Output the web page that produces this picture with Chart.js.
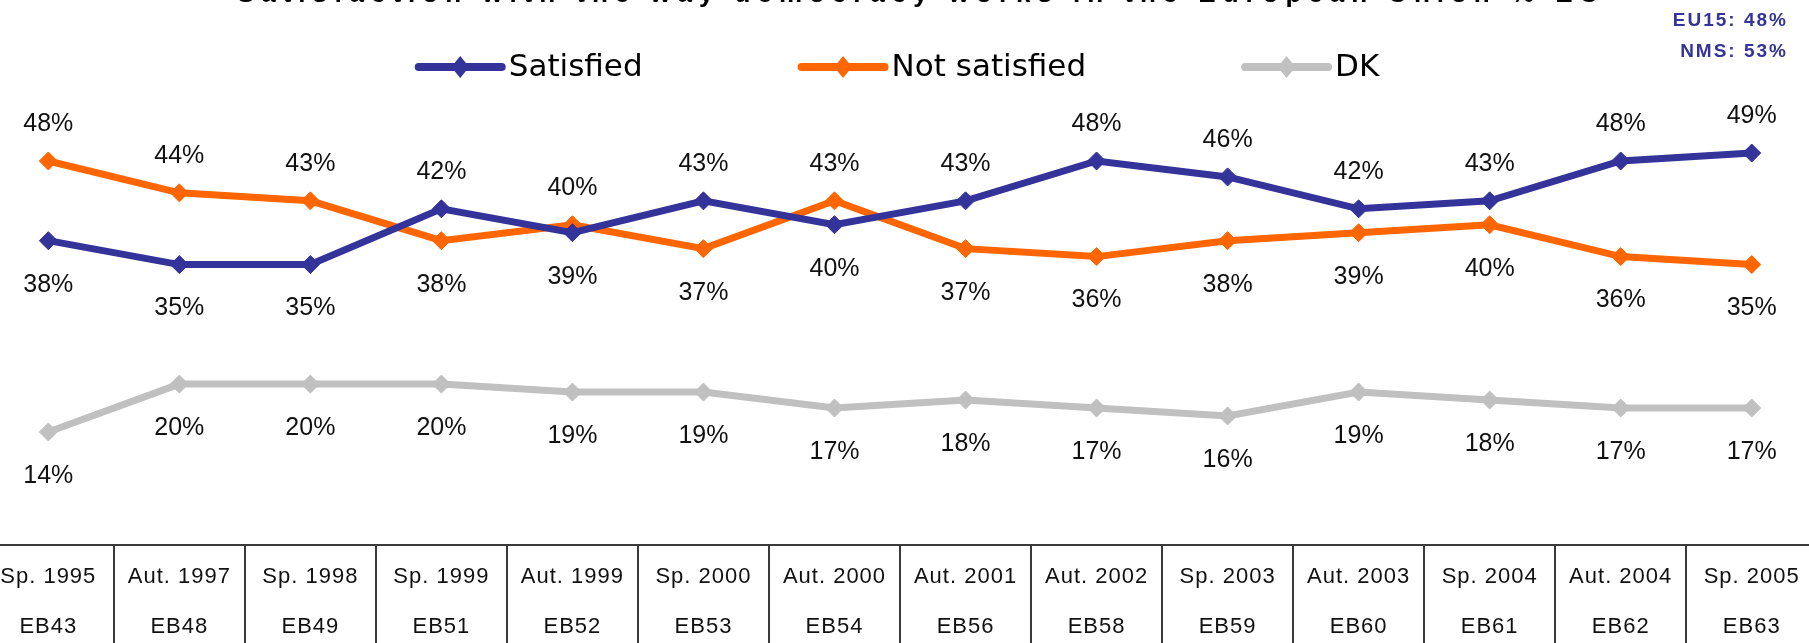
<!DOCTYPE html>
<html lang="en">
<head>
  <meta charset="utf-8">
  <title>Satisfaction with the way democracy works in the European Union</title>
  <script src="https://cdn.jsdelivr.net/npm/chart.js@4.4.0/dist/chart.umd.min.js"></script>
  <style>
    html, body { margin: 0; padding: 0; background: #fff; }
    #wrap { width: 1809px; height: 643px; }
  </style>
</head>
<body>
<div id="wrap"><canvas id="myChart" width="1809" height="643"></canvas></div>

<script>
// survey waves (table under the chart)
var waves = ['Sp. 1995', 'Aut. 1997', 'Sp. 1998', 'Sp. 1999', 'Aut. 1999', 'Sp. 2000', 'Aut. 2000',
             'Aut. 2001', 'Aut. 2002', 'Sp. 2003', 'Aut. 2003', 'Sp. 2004', 'Aut. 2004', 'Sp. 2005'];
var surveys = ['EB43', 'EB48', 'EB49', 'EB51', 'EB52', 'EB53', 'EB54',
               'EB56', 'EB58', 'EB59', 'EB60', 'EB61', 'EB62', 'EB63'];

// values in %
var satisfied    = [38, 35, 35, 42, 39, 43, 40, 43, 48, 46, 42, 43, 48, 49];
var notSatisfied = [48, 44, 43, 38, 40, 37, 43, 37, 36, 38, 39, 40, 36, 35];
var dontKnow     = [14, 20, 20, 20, 19, 19, 17, 18, 17, 16, 19, 18, 17, 17];

var seriesNames  = ['Satisfied', 'Not satisfied', 'DK'];
var seriesColors = ['#333399', '#FF6600', '#C0C0C0'];

var titleText = 'Satisfaction with the way democracy works in the European Union % EU';
var boxNotes  = ['EU15: 48%', 'NMS: 53%'];

function toPoints(arr) {
  return arr.map(function (v, i) { return { x: i, y: v }; });
}

function makeSet(k, arr) {
  return {
    label: seriesNames[k],
    data: toPoints(arr),
    borderColor: seriesColors[k],
    backgroundColor: seriesColors[k],
    borderWidth: 7,
    tension: 0,
    pointStyle: 'rectRot',
    pointRadius: 9,
    pointBorderWidth: 1,
    pointBackgroundColor: seriesColors[k],
    pointBorderColor: seriesColors[k],
    pointHoverRadius: 9,
    clip: false
  };
}

// percentage labels, above the higher of satisfied / not satisfied, below otherwise
var pctLabels = {
  id: 'pctLabels',
  afterDatasetsDraw: function (chart) {
    var ctx = chart.ctx;
    ctx.save();
    ctx.font = '25px "Liberation Sans", Arial, sans-serif';
    ctx.fillStyle = '#111';
    ctx.textAlign = 'center';
    ctx.textBaseline = 'middle';
    chart.data.datasets.forEach(function (ds, d) {
      var meta = chart.getDatasetMeta(d);
      meta.data.forEach(function (pt, i) {
        var v = ds.data[i].y;
        var above = false;
        if (d === 0) above = v > notSatisfied[i];
        if (d === 1) above = v > satisfied[i];
        ctx.fillText(v + '%', pt.x, pt.y + (above ? -37 : 44));
      });
    });
    ctx.restore();
  }
};

// title, legend, side notes and the wave table
var decor = {
  id: 'decor',
  beforeDraw: function (chart) {
    var ctx = chart.ctx;
    ctx.save();
    ctx.fillStyle = '#fff';
    ctx.fillRect(0, 0, chart.width, chart.height);

    // title (cut at the top edge like in the source)
    ctx.font = 'bold 26px "Liberation Sans", Arial, sans-serif';
    var w = ctx.measureText(titleText).width;
    ctx.letterSpacing = ((1361 - w) / (titleText.length - 1)).toFixed(2) + 'px';
    ctx.fillStyle = '#000';
    ctx.textAlign = 'left';
    ctx.textBaseline = 'alphabetic';
    ctx.fillText(titleText, 237, 2);
    ctx.letterSpacing = '0px';

    // legend
    ctx.font = '31px "DejaVu Sans", sans-serif';
    ctx.textBaseline = 'middle';
    var lineLen = 83, gapTxt = 7, gapItem = 159;
    var widths = seriesNames.map(function (n) { return lineLen + gapTxt + ctx.measureText(n).width; });
    var total = widths.reduce(function (a, b) { return a + b; }, 0) + gapItem * (widths.length - 1);
    var lx = 899 - total / 2, ly = 67;
    seriesNames.forEach(function (n, k) {
      ctx.strokeStyle = seriesColors[k];
      ctx.lineWidth = 8;
      ctx.lineCap = 'round';
      ctx.beginPath();
      ctx.moveTo(lx, ly);
      ctx.lineTo(lx + lineLen, ly);
      ctx.stroke();
      ctx.fillStyle = seriesColors[k];
      var cx = lx + lineLen / 2;
      ctx.beginPath();
      ctx.moveTo(cx - 9, ly);
      ctx.lineTo(cx, ly - 11);
      ctx.lineTo(cx + 9, ly);
      ctx.lineTo(cx, ly + 11);
      ctx.closePath();
      ctx.fill();
      ctx.fillStyle = '#000';
      ctx.fillText(n, lx + lineLen + gapTxt, ly + 1);
      lx += widths[k] + gapItem;
    });

    // EU15 / NMS notes
    ctx.font = 'bold 19px "Liberation Sans", Arial, sans-serif';
    ctx.letterSpacing = '2px';
    ctx.fillStyle = '#333399';
    ctx.textAlign = 'right';
    ctx.fillText(boxNotes[0], 1788, 21);
    ctx.fillText(boxNotes[1], 1788, 52);
    ctx.letterSpacing = '0px';
    ctx.restore();
  },
  afterDraw: function (chart) {
    var ctx = chart.ctx;
    var xs = chart.scales.x;
    var top = 545;
    ctx.save();
    ctx.strokeStyle = '#3a3a3a';
    ctx.lineWidth = 2;
    ctx.beginPath();
    ctx.moveTo(0, top);
    ctx.lineTo(chart.width, top);
    for (var i = 0; i < waves.length - 1; i++) {
      var bx = Math.round(xs.getPixelForValue(i + 0.5));
      ctx.moveTo(bx, top);
      ctx.lineTo(bx, chart.height);
    }
    ctx.stroke();

    ctx.font = '22px "Liberation Sans", Arial, sans-serif';
    ctx.letterSpacing = '1px';
    ctx.fillStyle = '#111';
    ctx.textAlign = 'center';
    ctx.textBaseline = 'middle';
    waves.forEach(function (wv, i) {
      var cx = xs.getPixelForValue(i);
      ctx.fillText(wv, cx, 577);
      ctx.fillText(surveys[i], cx, 627);
    });
    ctx.restore();
  }
};

var ctx = document.getElementById('myChart').getContext('2d');
var myChart = new Chart(ctx, {
  type: 'line',
  data: {
    datasets: [makeSet(0, satisfied), makeSet(1, notSatisfied), makeSet(2, dontKnow)]
  },
  options: {
    responsive: false,
    animation: false,
    devicePixelRatio: 1,
    layout: { autoPadding: false, padding: { left: 0, right: 0, top: 0, bottom: 99.5 } },
    plugins: {
      legend: { display: false },
      tooltip: { enabled: false },
      title: { display: false }
    },
    scales: {
      x: { type: 'linear', display: false, min: -0.3686, max: 13.437 },
      y: { type: 'linear', display: false, min: 0, max: 68.2 }
    }
  },
  plugins: [decor, pctLabels]
});
</script>
</body>
</html>
